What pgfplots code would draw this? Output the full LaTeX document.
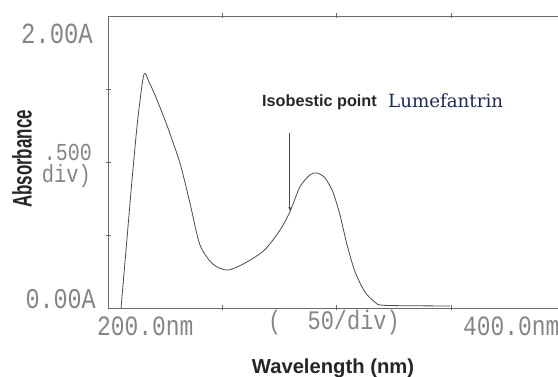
\documentclass[border=0pt]{standalone}
\usepackage{pgfplots}
\pgfplotsset{compat=1.18}
\usetikzlibrary{arrows.meta}
\usepackage{fontspec}
\setmainfont{Liberation Sans}
\newfontfamily\monofont{Liberation Mono}
\newfontfamily\seriffont{DejaVu Serif}
\definecolor{axgray}{HTML}{6A6A6A}
\definecolor{txtgray}{HTML}{858585}
\definecolor{curvegray}{HTML}{4A4A4A}
\definecolor{navy}{HTML}{1C2A55}
\newcommand{\mono}[2][23]{\scalebox{1}[1.22]{\fontsize{#1}{#1}\selectfont\monofont #2}}
\begin{document}
\begin{tikzpicture}
\useasboundingbox (0,0) rectangle (558bp,377bp);
\clip (0,0) rectangle (558bp,377bp);
\begin{axis}[
  at={(108bp,69bp)}, anchor=south west,
  scale only axis, width=450bp, height=292bp,
  xmin=200, xmax=396.7, ymin=0, ymax=2,
  axis x line*=box, axis y line*=left,
  axis line style={color=axgray, line width=0.9pt},
  xtick={250,300,350}, ytick={0.5,1,1.5},
  xticklabels={,,}, yticklabels={,,},
  tick align=center, major tick length=5bp,
  tick style={color=axgray, line width=0.8pt},
  xtick pos=both,
]
\addplot[color=curvegray, line width=0.8pt, smooth, tension=0.45] coordinates {
(205.7,0.000) (208.0,0.420) (210.5,0.877) (213.0,1.290) (215.7,1.600)
(218.0,1.545) (220.5,1.460) (225.8,1.250) (231.5,0.990) (235.8,0.720)
(240.2,0.432) (245.9,0.300) (252.4,0.260) (260.7,0.315) (268.6,0.400)
(275.2,0.534) (279.5,0.658) (283.9,0.830) (288.3,0.912) (291.3,0.925)
(294.8,0.892) (298.3,0.795) (301.4,0.637) (304.5,0.432) (308.0,0.247)
(312.3,0.110) (316.7,0.040) (321.1,0.018) (349.5,0.014)
};
\draw[color=curvegray, line width=0.8pt, -{Stealth[length=4pt,width=3pt]}] (axis cs:279.5,1.20) -- (axis cs:279.5,0.665);
\end{axis}
\node[anchor=east, inner sep=0, txtgray] at (93bp,343bp) {\mono[24]{2.00A}};
\node[anchor=east, inner sep=0, txtgray] at (92bp,225bp) {\mono[20]{.500}};
\node[anchor=east, inner sep=0, txtgray] at (91bp,201bp) {\mono[20.5]{div)}};
\node[anchor=east, inner sep=0, txtgray] at (96bp,78bp) {\mono[23.5]{0.00A}};
\node[anchor=west, inner sep=0, txtgray] at (97bp,51bp) {\mono[23]{200.0nm}};
\node[anchor=west, inner sep=0, txtgray] at (268bp,54bp) {\mono[22]{(\ \ 50/div)}};
\node[anchor=west, inner sep=0, txtgray] at (463bp,51bp) {\mono[23]{400.0nm}};
\node[rotate=90, inner sep=0, color=black!85] at (22bp,218bp) {\scalebox{0.63}[1]{\fontsize{27}{27}\selectfont\bfseries Absorbance}};
\node[anchor=base, inner sep=0, color=black!85] at (333bp,4bp) {\fontsize{20.3}{21}\selectfont\bfseries Wavelength (nm)};
\node[anchor=base west, inner sep=0, color=black!85] at (262bp,270bp) {\fontsize{16.3}{17}\selectfont\bfseries Isobestic point};
\node[anchor=base west, inner sep=0, color=navy] at (388bp,269bp) {\fontsize{18.3}{19}\selectfont\seriffont Lumefantrin};
\end{tikzpicture}
\end{document}
